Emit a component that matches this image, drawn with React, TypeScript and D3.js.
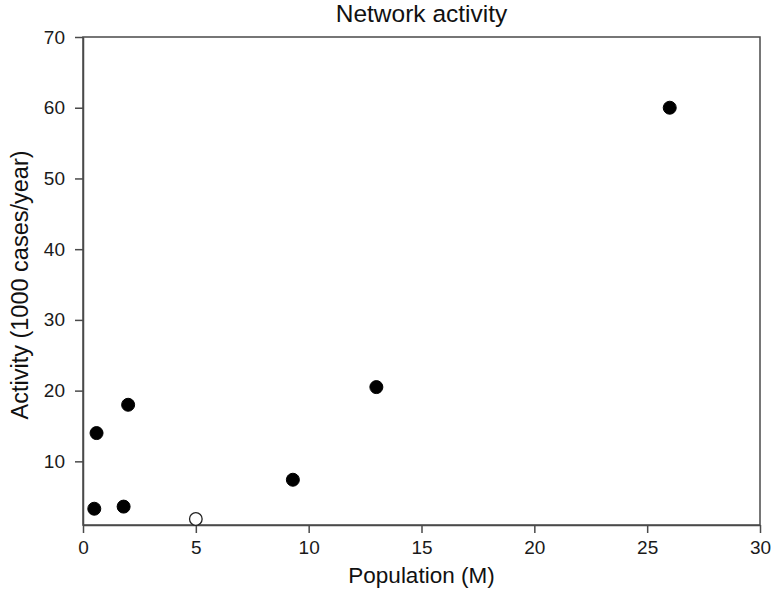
import React, { useEffect, useRef } from 'react';
import * as d3 from 'd3';

// Population (M) vs activity (1000 cases/year)
const filledPopulation = [0.5, 0.6, 1.8, 2.0, 9.3, 13.0, 26.0];
const filledActivity = [3.3, 14.0, 3.6, 18.0, 7.4, 20.5, 60.0];
const openPopulation = [5.0];
const openActivity = [1.85];

const xTicks = [0, 5, 10, 15, 20, 25, 30];
const yTicks = [10, 20, 30, 40, 50, 60, 70];

const FONT = '"Liberation Sans", Arial, sans-serif';

function App() {
  const svgRef = useRef<SVGSVGElement>(null);

  useEffect(() => {
    const width = 771;
    const height = 589;
    const margin = { top: 37, right: 11, bottom: 64, left: 83 };
    const innerWidth = width - margin.left - margin.right;
    const innerHeight = height - margin.top - margin.bottom;

    const svg = d3.select(svgRef.current)
      .attr('width', width)
      .attr('height', height);

    svg.selectAll('*').remove();

    const g = svg.append('g')
      .attr('transform', `translate(${margin.left},${margin.top})`);

    const xScale = d3.scaleLinear().domain([0, 30]).range([0, innerWidth]);
    const yScale = d3.scaleLinear().domain([1, 70]).range([innerHeight, 0]);

    const axisColor = '#4a4a4a';

    // frame (top and right)
    g.append('rect')
      .attr('x', 0)
      .attr('y', 0)
      .attr('width', innerWidth)
      .attr('height', innerHeight)
      .attr('fill', 'none')
      .attr('stroke', axisColor)
      .attr('stroke-width', 1.5);

    // X axis
    const xAxis = g.append('g')
      .attr('transform', `translate(0,${innerHeight})`)
      .call(d3.axisBottom(xScale).tickValues(xTicks).tickSize(8).tickPadding(8).tickSizeOuter(0));
    xAxis.select('.domain').attr('stroke', axisColor).attr('stroke-width', 1.5);
    xAxis.selectAll('.tick line').attr('stroke', axisColor).attr('stroke-width', 1.5);
    xAxis.selectAll('.tick text')
      .attr('fill', '#1a1a1a')
      .attr('font-size', '19px')
      .attr('font-family', FONT);

    // Y axis
    const yAxis = g.append('g')
      .call(d3.axisLeft(yScale).tickValues(yTicks).tickSize(8).tickPadding(10).tickSizeOuter(0));
    yAxis.select('.domain').attr('stroke', axisColor).attr('stroke-width', 1.5);
    yAxis.selectAll('.tick line').attr('stroke', axisColor).attr('stroke-width', 1.5);
    yAxis.selectAll('.tick text')
      .attr('fill', '#1a1a1a')
      .attr('font-size', '19px')
      .attr('font-family', FONT);

    // Filled points
    g.selectAll('circle.filled')
      .data(filledPopulation.map((p, i) => ({ p, a: filledActivity[i] })))
      .enter()
      .append('circle')
      .attr('class', 'filled')
      .attr('cx', d => xScale(d.p))
      .attr('cy', d => yScale(d.a))
      .attr('r', 6.5)
      .attr('fill', '#000')
      .attr('stroke', '#000')
      .attr('stroke-width', 1);

    // Open points
    g.selectAll('circle.open')
      .data(openPopulation.map((p, i) => ({ p, a: openActivity[i] })))
      .enter()
      .append('circle')
      .attr('class', 'open')
      .attr('cx', d => xScale(d.p))
      .attr('cy', d => yScale(d.a))
      .attr('r', 6.3)
      .attr('fill', '#fff')
      .attr('stroke', '#222')
      .attr('stroke-width', 1.3);

    // Title
    svg.append('text')
      .attr('x', margin.left + innerWidth / 2)
      .attr('y', 22)
      .attr('text-anchor', 'middle')
      .attr('fill', '#111')
      .attr('font-size', '24.5px')
      .attr('font-family', FONT)
      .text('Network activity');

    // X label
    svg.append('text')
      .attr('x', margin.left + innerWidth / 2)
      .attr('y', 583)
      .attr('text-anchor', 'middle')
      .attr('fill', '#111')
      .attr('font-size', '22.5px')
      .attr('font-family', FONT)
      .text('Population (M)');

    // Y label
    svg.append('text')
      .attr('transform', 'rotate(-90)')
      .attr('x', -285)
      .attr('y', 28)
      .attr('text-anchor', 'middle')
      .attr('fill', '#111')
      .attr('font-size', '23.5px')
      .attr('font-family', FONT)
      .text('Activity (1000 cases/year)');
  }, []);

  return (
    <svg ref={svgRef} style={{ position: 'absolute', left: 0, top: 0, background: '#fff' }}></svg>
  );
}

export default App;
